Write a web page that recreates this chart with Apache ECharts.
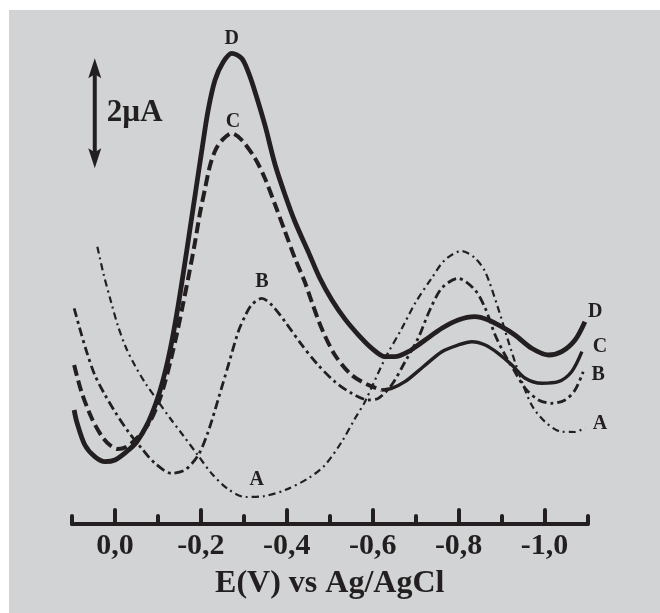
<!DOCTYPE html>
<html><head><meta charset="utf-8">
<script src="https://cdn.jsdelivr.net/npm/echarts@6/dist/echarts.min.js"></script>
<style>html,body{margin:0;padding:0;background:#fff}#c{width:660px;height:613px}</style>
</head><body><div id="c"></div>
<script>
// x: potential E (V vs Ag/AgCl), y: current (µA, arbitrary offset)
const majorTicks = [0, -0.2, -0.4, -0.6, -0.8, -1.0];
const tickLabels = ['0,0', '-0,2', '-0,4', '-0,6', '-0,8', '-1,0'];
const minorTicks = [0.1, -0.1, -0.3, -0.5, -0.7, -0.9, -1.1];
const axisTitle = 'E(V) vs Ag/AgCl';

const curveA = [[0.041,5.042],[0.026,4.527],[0.009,4.036],[-0.007,3.600],[-0.026,3.200],[-0.047,2.873],[-0.072,2.545],[-0.100,2.236],[-0.128,1.927],[-0.158,1.618],[-0.191,1.273],[-0.226,0.909],[-0.263,0.636],[-0.303,0.491],[-0.349,0.509],[-0.396,0.618],[-0.450,0.831],[-0.489,1.073],[-0.528,1.496],[-0.559,1.922],[-0.582,2.224],[-0.629,3.013],[-0.668,3.558],[-0.699,4.018],[-0.737,4.467],[-0.768,4.800],[-0.807,4.964],[-0.838,4.836],[-0.862,4.582],[-0.892,3.922],[-0.916,3.315],[-0.939,2.769],[-0.970,2.164],[-1.001,1.860],[-1.040,1.678],[-1.071,1.673],[-1.094,1.751]];

const curveB = [[0.095,3.922],[0.082,3.558],[0.066,3.133],[0.047,2.709],[0.023,2.345],[0,2.042],[-0.031,1.678],[-0.062,1.376],[-0.093,1.104],[-0.132,0.922],[-0.163,0.982],[-0.194,1.255],[-0.217,1.678],[-0.241,2.285],[-0.264,2.891],[-0.287,3.496],[-0.303,3.782],[-0.318,3.982],[-0.342,4.104],[-0.365,3.982],[-0.396,3.678],[-0.435,3.255],[-0.473,2.891],[-0.512,2.587],[-0.551,2.376],[-0.590,2.255],[-0.613,2.285],[-0.644,2.527],[-0.675,2.945],[-0.706,3.382],[-0.733,3.891],[-0.761,4.291],[-0.799,4.467],[-0.838,4.255],[-0.862,3.922],[-0.885,3.436],[-0.908,3.073],[-0.931,2.769],[-0.955,2.467],[-0.986,2.255],[-1.017,2.195],[-1.048,2.255],[-1.071,2.436],[-1.090,2.769]];

const curveC = [[0.095,2.891],[0.078,2.405],[0.054,1.922],[0.031,1.600],[0.012,1.436],[-0.007,1.364],[-0.026,1.400],[-0.047,1.527],[-0.078,1.818],[-0.101,2.200],[-0.116,2.564],[-0.130,2.982],[-0.144,3.455],[-0.158,3.982],[-0.172,4.527],[-0.186,5.109],[-0.198,5.655],[-0.210,6.109],[-0.221,6.509],[-0.235,6.818],[-0.252,7.000],[-0.272,7.104],[-0.295,6.982],[-0.326,6.649],[-0.349,6.285],[-0.373,5.800],[-0.396,5.315],[-0.419,4.831],[-0.442,4.400],[-0.458,4.042],[-0.481,3.558],[-0.512,3.073],[-0.551,2.709],[-0.590,2.527],[-0.621,2.436],[-0.644,2.467],[-0.675,2.587],[-0.717,2.855],[-0.761,3.133],[-0.799,3.255],[-0.831,3.315],[-0.862,3.255],[-0.892,3.104],[-0.924,2.891],[-0.955,2.649],[-0.994,2.558],[-1.032,2.587],[-1.063,2.769],[-1.087,3.133]];

const curveD = [[0.095,2.073],[0.089,1.860],[0.070,1.436],[0.047,1.224],[0.023,1.133],[0,1.164],[-0.027,1.315],[-0.051,1.496],[-0.078,1.860],[-0.101,2.327],[-0.119,2.836],[-0.133,3.345],[-0.147,3.964],[-0.161,4.655],[-0.175,5.382],[-0.189,6.109],[-0.203,6.836],[-0.217,7.527],[-0.233,8.073],[-0.252,8.400],[-0.272,8.558],[-0.295,8.467],[-0.310,8.224],[-0.326,7.860],[-0.349,7.255],[-0.373,6.527],[-0.396,5.982],[-0.419,5.496],[-0.450,4.951],[-0.477,4.467],[-0.505,4.073],[-0.536,3.720],[-0.567,3.436],[-0.598,3.195],[-0.629,3.042],[-0.652,3.042],[-0.683,3.133],[-0.706,3.255],[-0.722,3.345],[-0.761,3.558],[-0.799,3.709],[-0.838,3.769],[-0.869,3.709],[-0.900,3.587],[-0.931,3.436],[-0.970,3.195],[-1.009,3.073],[-1.040,3.133],[-1.071,3.345],[-1.094,3.678]];

const curveLabels = [[-0.272,8.818,'D'],[-0.275,7.315,'C'],[-0.342,4.405,'B'],[-0.330,0.800,'A'],[-1.118,3.860,'D'],[-1.129,3.224,'C'],[-1.125,2.709,'B'],[-1.129,1.818,'A']];

// scale bar: [E position, starting current, span in µA]
const scaleBar = [[0.047, 6.47, 2]];
const scaleBarLabel = '2µA';

const ink = '#231f20';
const serif = '"Liberation Serif", "Times New Roman", serif';
const splitE = -0.621;
const cLeft = curveC.filter(p => p[0] >= splitE);
const cRight = curveC.filter(p => p[0] <= splitE);

const chart = echarts.init(document.getElementById('c'), null, {renderer: 'canvas'});
const lineSeries = (name, data, width, type) => ({
  name, type: 'line', data, showSymbol: false, symbol: 'none', smooth: 0.3, clip: false,
  lineStyle: {color: ink, width, type, cap: 'butt', join: 'round'}, silent: true, z: 3
});
chart.setOption({
  animation: false,
  backgroundColor: '#ffffff',
  graphic: [{type: 'rect', shape: {x: 9, y: 10, width: 651, height: 603}, style: {fill: '#d1d3d4'}, z: -10}],
  grid: {left: 72, right: 72.5, top: 29, bottom: 89, containLabel: false},
  xAxis: [{
    type: 'value', inverse: true, min: -1.1, max: 0.1, interval: 0.1, position: 'bottom',
    axisLine: {show: true, lineStyle: {color: ink, width: 4, cap: 'round'}},
    axisTick: {show: true, inside: true, length: 14, customValues: majorTicks, lineStyle: {color: ink, width: 4, cap: 'round'}},
    axisLabel: {show: true, customValues: majorTicks, margin: 7,
      formatter: v => { const i = majorTicks.findIndex(t => Math.abs(t - v) < 1e-6); return i >= 0 ? tickLabels[i] : ''; },
      color: ink, fontFamily: serif, fontWeight: 'bold', fontSize: 30},
    splitLine: {show: false},
    name: axisTitle, nameLocation: 'middle', nameGap: 44,
    nameTextStyle: {color: ink, fontFamily: serif, fontWeight: 'bold', fontSize: 32}
  }, {
    type: 'value', inverse: true, min: -1.1, max: 0.1, interval: 0.1, position: 'bottom', offset: 0,
    axisLine: {show: false},
    axisTick: {show: true, inside: true, length: 8, customValues: minorTicks, lineStyle: {color: ink, width: 4, cap: 'round'}},
    axisLabel: {show: false}, splitLine: {show: false}
  }],
  yAxis: {type: 'value', min: 0, max: 9, show: false},
  series: [
    lineSeries('A', curveA, 2.2, [7, 4, 2, 4]),
    lineSeries('B', curveB, 2.8, [9, 4, 3, 4]),
    lineSeries('C', cLeft, 4, [11, 5]),
    lineSeries('C2', cRight, 3.4, 'solid'),
    lineSeries('D', curveD, 4.8, 'solid'),
    {
      name: 'labels', type: 'custom', data: curveLabels.map(d => [d[0], d[1]]), silent: true, clip: false, z: 5,
      renderItem: (params, api) => {
        const p = api.coord([api.value(0), api.value(1)]);
        return {type: 'text', style: {text: curveLabels[params.dataIndex][2], x: p[0], y: p[1], align: 'center', verticalAlign: 'middle', font: 'bold 20px ' + serif, fill: ink}};
      }
    },
    {
      name: 'scale', type: 'custom', data: scaleBar, silent: true, clip: false,
      renderItem: (params, api) => {
        const E = api.value(0), y0 = api.value(1), span = api.value(2);
        const top = api.coord([E, y0 + span]), bot = api.coord([E, y0]);
        const x = top[0], hw = 6.5, hh = 20;
        return {type: 'group', children: [
          {type: 'line', shape: {x1: x, y1: top[1] + hh - 4, x2: x, y2: bot[1] - hh + 4}, style: {stroke: ink, lineWidth: 4}},
          {type: 'polygon', shape: {points: [[x, top[1]], [x + hw, top[1] + hh], [x, top[1] + hh - 4], [x - hw, top[1] + hh]]}, style: {fill: ink}},
          {type: 'polygon', shape: {points: [[x, bot[1]], [x + hw, bot[1] - hh], [x, bot[1] - hh + 4], [x - hw, bot[1] - hh]]}, style: {fill: ink}},
          {type: 'text', style: {text: scaleBarLabel, x: x + 12, y: (top[1] + bot[1]) / 2, verticalAlign: 'middle', font: 'bold 31px ' + serif, fill: ink}}
        ]};
      }
    }
  ]
});
</script></body></html>
